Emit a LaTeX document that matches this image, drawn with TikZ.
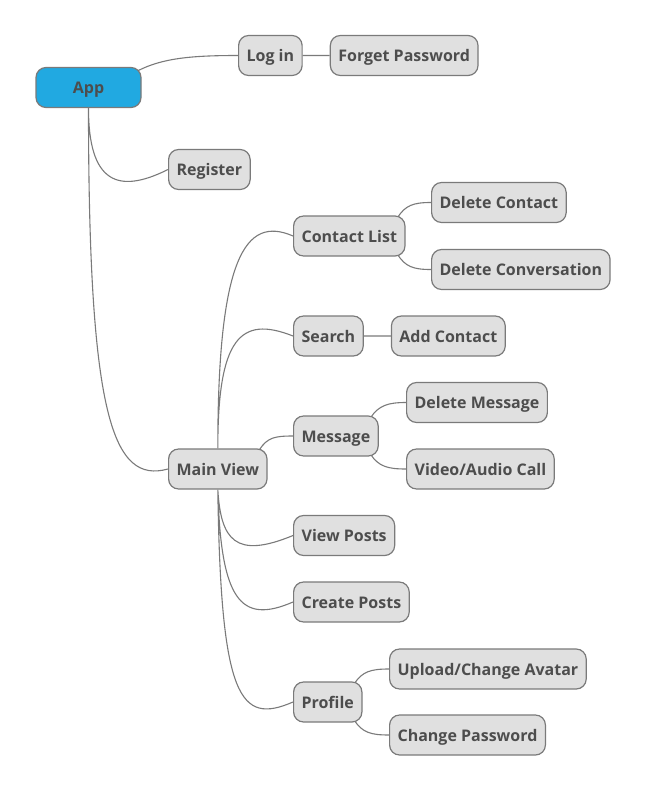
\documentclass[tikz,border=0pt]{standalone}
\usepackage{fontspec}
\setmainfont{Open Sans}
\usetikzlibrary{positioning,backgrounds}

\definecolor{appblue}{HTML}{21A9E1}
\definecolor{boxgray}{HTML}{E0E0E0}
\definecolor{edgegray}{HTML}{7A7A7A}
\definecolor{textgray}{HTML}{4D4D4D}

\begin{document}
\begin{tikzpicture}[x=1pt,
            y=-1pt,
            topic/.style={draw=edgegray, fill=boxgray, rounded corners=10pt,
                          line width=1.2pt, minimum height=40pt, inner xsep=8pt,
                          text height=12pt, text depth=0pt,
                          text=textgray, font=\fontsize{16}{19}\selectfont\bfseries},
            root/.style={topic, fill=appblue, minimum width=105pt},
            branch/.style={draw=edgegray, line width=1.1pt}]

        \useasboundingbox (0,0) rectangle (647,793);

        % first level
        \node[root]              (app)    at (88.5,87.5) {App};
        \node[topic,anchor=west] (login)  at (238,55.5)  {Log in};
        \node[topic,right=27pt of login] (forget) {Forget Password};
        \node[topic,anchor=west] (reg)    at (168,169.5) {Register};
        \node[topic,anchor=west] (main)   at (168,469)   {Main View};

        % main view
        \node[topic,anchor=west] (clist)  at (293,236)   {Contact List};
        \node[topic,anchor=west] (delc)   at (431,202.5) {Delete Contact};
        \node[topic,anchor=west] (delconv) at (431,269.5) {Delete Conversation};
        \node[topic,anchor=west] (search) at (293,336)   {Search};
        \node[topic,right=27pt of search] (addc) {Add Contact};
        \node[topic,anchor=west] (msg)    at (293,436)   {Message};
        \node[topic,anchor=west] (delmsg) at (406,402.5) {Delete Message};
        \node[topic,anchor=west] (call)   at (406,469)   {Video/Audio Call};
        \node[topic,anchor=west] (vposts) at (293,535.5) {View Posts};
        \node[topic,anchor=west] (cposts) at (293,602)   {Create Posts};
        \node[topic,anchor=west] (prof)   at (293,702)   {Profile};
        \node[topic,anchor=west] (avatar) at (389,669)   {Upload/Change Avatar};
        \node[topic,anchor=west] (chpw)   at (389,735)   {Change Password};

        \begin{scope}[on background layer]
        \path[branch] ([shift={(-4,4)}]app.north east) .. controls +(25,-13) and +(-45,0) .. (login.west)
                      (login) -- (forget)
                      (app.south) .. controls +(0,75) and +(-50,25) .. (reg.west)
                      (app.south) .. controls +(0,310) and +(-55,15) .. (main.west);

        \path[branch] (main.north) .. controls +(0,-190) and +(-48,-21) .. (clist.west)
                      (main.north) .. controls +(0,-110) and +(-53,-21) .. (search.west)
                      ([shift={(-8,1)}]main.north east) .. controls +(8,-12) and +(-18,0) .. (msg.west)
                      (main.south) .. controls +(3,50) and +(-58,24) .. (vposts.west)
                      (main.south) .. controls +(3,110) and +(-53,23) .. (cposts.west)
                      (main.south) .. controls +(3,210) and +(-53,23) .. (prof.west);

        \path[branch] ([shift={(-8,2)}]clist.north east) .. controls +(8,-12) and +(-18,0) .. (delc.west)
                      ([shift={(-8,-2)}]clist.south east) .. controls +(8,12) and +(-18,0) .. (delconv.west)
                      (search) -- (addc)
                      ([shift={(-8,2)}]msg.north east) .. controls +(8,-12) and +(-18,0) .. (delmsg.west)
                      ([shift={(-8,-2)}]msg.south east) .. controls +(8,12) and +(-18,0) .. (call.west)
                      ([shift={(-8,2)}]prof.north east) .. controls +(8,-12) and +(-18,0) .. (avatar.west)
                      ([shift={(-8,-2)}]prof.south east) .. controls +(8,12) and +(-18,0) .. (chpw.west);
        \end{scope}

    \end{tikzpicture}
\end{document}
